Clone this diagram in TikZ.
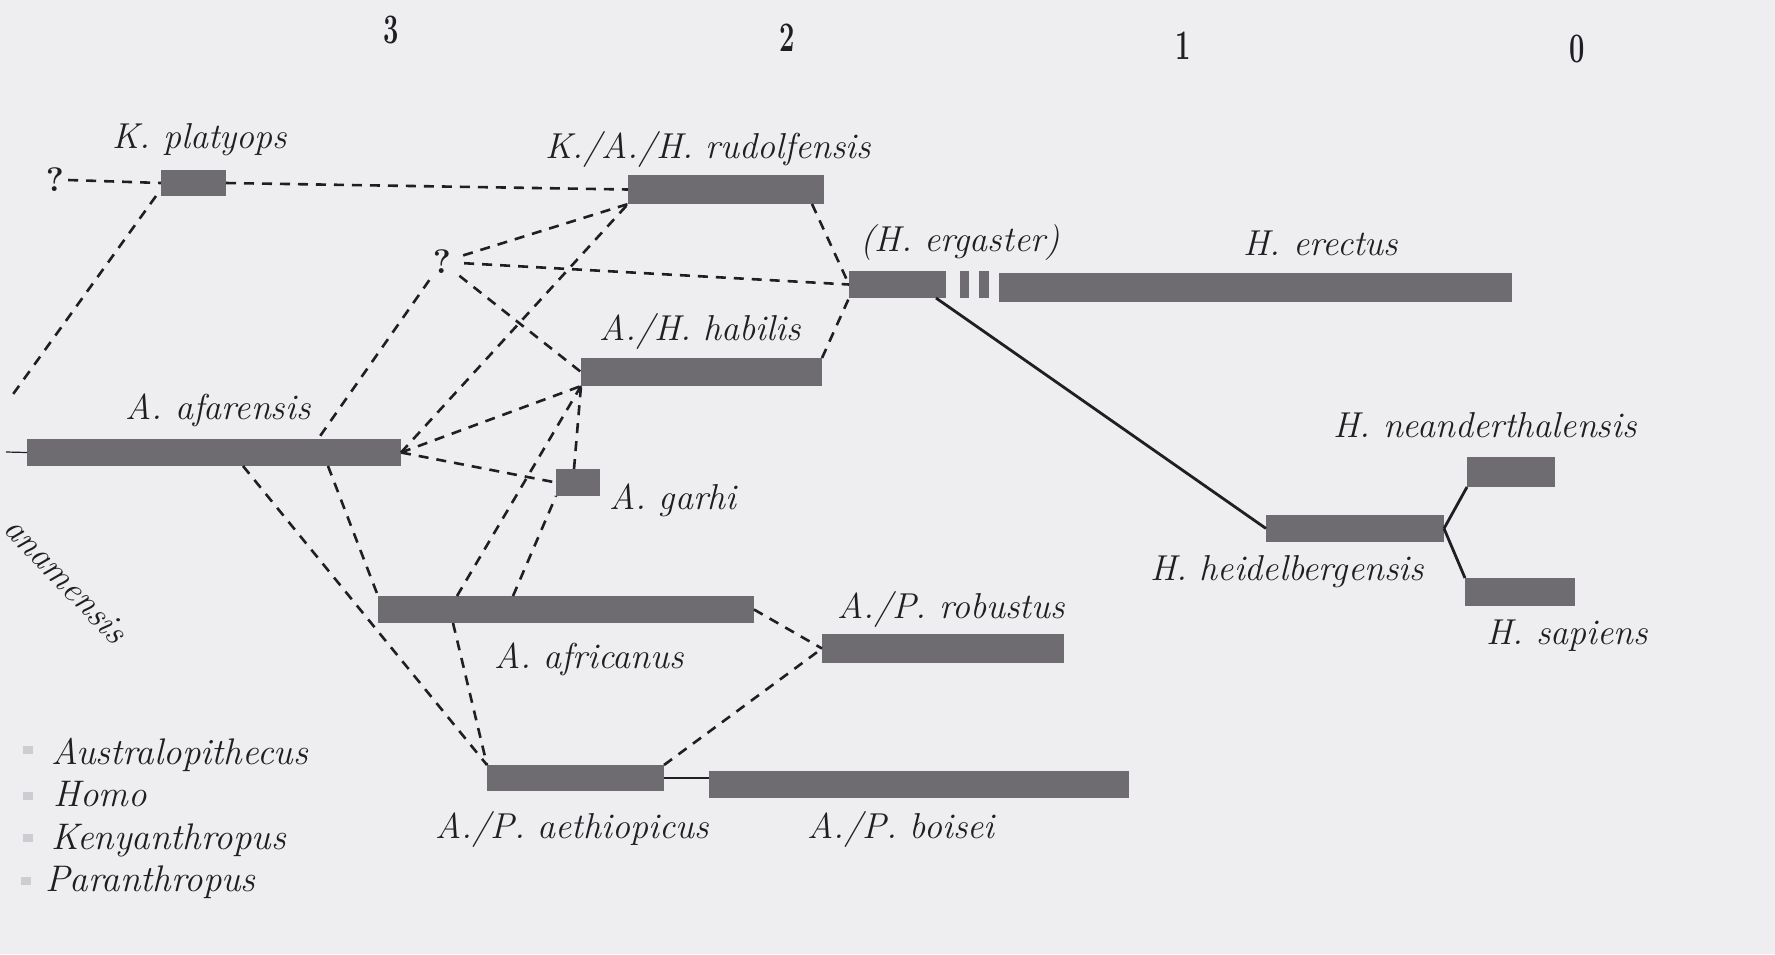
\documentclass[tikz,border=0pt]{standalone}
\usetikzlibrary{calc}
\definecolor{bg}{RGB}{238,237,240}
\definecolor{barc}{RGB}{110,108,112}
\definecolor{ink}{RGB}{32,30,34}
\definecolor{legc}{RGB}{205,205,209}
\tikzset{
  bar/.style={fill=barc, draw=none, inner sep=0pt, outer sep=0pt},
  lbl/.style={font=\fontsize{36}{42}\selectfont\itshape, text=ink, inner sep=0pt, anchor=base},
  leg/.style={font=\fontsize{37}{42}\selectfont\itshape, text=ink, inner sep=0pt, anchor=base west},
  num/.style={font=\fontsize{42}{48}\selectfont\bfseries, text=ink, inner sep=0pt, anchor=base},
  qm/.style={font=\fontsize{34}{38}\selectfont\bfseries, text=ink},
  dsh/.style={draw=ink, line width=2.6pt, dash pattern=on 10pt off 8pt},
  sol/.style={draw=ink, line width=2.8pt},
  thin/.style={draw=ink, line width=1.2pt},
  legbox/.style={fill=legc, draw=none, inner sep=0pt, minimum width=10pt, minimum height=8pt}
}
\newcommand\mkbar[5]{\node[bar, minimum width={(#4-#2)*1pt}, minimum height={(#5-#3)*1pt}] (#1) at ({(#2+#4)/2},{(#3+#5)/2}) {};}
\begin{document}
\begin{tikzpicture}[x=1pt,y=-1pt]
\useasboundingbox (0,0) rectangle (1775,954);
\fill[bg] (0,0) rectangle (1775,954);

% time axis
\node[num] (n3) at (391,43) {\scalebox{0.65}[1]{3}};
\node[num] (n2) at (787,51) {\scalebox{0.65}[1]{2}};
\node[num] (n1) at (1183,59) {\scalebox{0.65}[1]{1}};
\node[num] (n0) at (1577,62) {\scalebox{0.65}[1]{0}};

% bars
\mkbar{kplat}{161}{170}{226}{196}
\mkbar{rud}{628}{175}{824}{204}
\mkbar{erg}{849}{271}{946}{298}
\mkbar{tka}{960}{271}{969}{298}
\mkbar{tkb}{979}{271}{989}{298}
\mkbar{erec}{999}{273}{1512}{302}
\mkbar{hab}{581}{358}{822}{386}
\mkbar{afar}{27}{439}{401}{466}
\mkbar{garhi}{556}{469}{600}{496}
\mkbar{afri}{378}{596}{754}{623}
\mkbar{rob}{822}{634}{1064}{663}
\mkbar{aeth}{487}{765}{664}{791}
\mkbar{bois}{709}{771}{1129}{798}
\mkbar{heid}{1266}{515}{1444}{542}
\mkbar{nean}{1467}{457}{1555}{487}
\mkbar{sap}{1465}{578}{1575}{606}

% question marks
\node[qm, inner sep=4pt] (qL) at (55,180) {?};
\node[qm, circle, inner sep=0pt, minimum size=44pt] (qM) at (442,262) {?};

% free ends
\coordinate (kend) at (11,397);
\coordinate (afl) at (6,452);

% labels
\node[lbl] (lkplat) at (200,148) {K. platyops};
\node[lbl] (lrud) at (708,158) {K./A./H. rudolfensis};
\node[lbl] (lerg) at (960,251) {(H. ergaster)};
\node[lbl] (lerec) at (1321,255) {H. erectus};
\node[lbl] (lhab) at (700,340) {A./H. habilis};
\node[lbl] (lafar) at (218,419) {A. afarensis};
\node[lbl] (lgarhi) at (673,509) {A. garhi};
\node[lbl] (lafri) at (589,668) {A. africanus};
\node[lbl] (lrob) at (951,618) {A./P. robustus};
\node[lbl] (laeth) at (572,838) {A./P. aethiopicus};
\node[lbl] (lbois) at (901,838) {A./P. boisei};
\node[lbl] (lheid) at (1287,580) {H. heidelbergensis};
\node[lbl] (lnean) at (1485,437) {H. neanderthalensis};
\node[lbl] (lsap) at (1567,644) {H. sapiens};
\node[font=\fontsize{36}{42}\selectfont\itshape, text=ink, inner sep=0pt, rotate=-46] (lana) at (66,580) {anamensis};

% legend
\node[legbox] (kA) at (28,750) {};
\node[legbox] (kH) at (28,796) {};
\node[legbox] (kK) at (28,838) {};
\node[legbox] (kP) at (26,881) {};
\node[leg] (tA) at (51,764) {Australopithecus};
\node[leg] (tH) at (53,806) {Homo};
\node[leg] (tK) at (51,849) {Kenyanthropus};
\node[leg] (tP) at (45,891) {Paranthropus};

% dashed connectors
\draw[dsh] (qL.east) -- (kplat.west);
\draw[dsh] (kplat.east) -- (rud.west);
\draw[dsh] ([xshift=-5pt]kplat.south west) -- (kend);
\draw[dsh] (qM) -- (rud.south west);
\draw[dsh] (qM) -- (erg.west);
\draw[dsh] (qM) -- (hab.west);
\draw[dsh] (qM) -- ([xshift=104pt]afar.north);
\draw[dsh] (afar.east) -- (rud.south west);
\draw[dsh] (afar.east) -- (hab.south west);
\draw[dsh] (afar.east) -- (garhi.west);
\draw[dsh] ([xshift=-109pt]afri.north) -- (hab.south west);
\draw[dsh] ([xshift=-53pt]afri.north) -- (garhi.south west);
\draw[dsh] ([xshift=-4pt]garhi.north) -- (hab.south west);
\draw[dsh] ([xshift=29pt]afar.south) -- (aeth.north west);
\draw[dsh] ([xshift=114pt]afar.south) -- (afri.north west);
\draw[dsh] ([xshift=-113pt]afri.south) -- (aeth.north west);
\draw[dsh] (afri.east) -- (rob.west);
\draw[dsh] (aeth.north east) -- (rob.west);
\draw[dsh] ([xshift=-12pt]rud.south east) -- (erg.west);
\draw[dsh] (hab.north east) -- (erg.south west);

% solid connectors
\draw[sol] (aeth.east) -- (aeth.east -| bois.west);
\draw[sol] ([xshift=-10pt]erg.south east) -- (heid.west);
\draw[sol] (heid.east) -- (nean.south west);
\draw[sol] (heid.east) -- (sap.north west);
\draw[thin] (afl) -- (afar.west);
\end{tikzpicture}
\end{document}
